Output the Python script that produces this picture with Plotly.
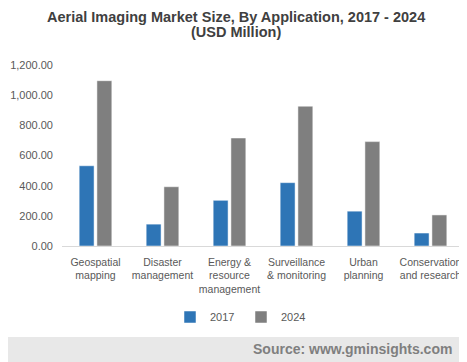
import plotly.graph_objects as go

categories = ["Geospatial<br>mapping", "Disaster<br>management", "Energy &<br>resource<br>management",
              "Surveillance<br>& monitoring", "Urban<br>planning", "Conservation<br>and research"]
values_2017 = [532, 145, 303, 420, 231, 86]
values_2024 = [1096, 393, 716, 927, 692, 206]
tick_vals = [0, 200, 400, 600, 800, 1000, 1200]
tick_text = ["0.00", "200.00", "400.00", "600.00", "800.00", "1,000.00", "1,200.00"]
title_lines = ["Aerial Imaging Market Size, By Application, 2017 - 2024", "(USD Million)"]
source_text = "Source: www.gminsights.com"

# page body has an 8px margin, so the figure is drawn 8px smaller and coordinates are shifted
OFF = 8
W, H = 467 - OFF, 362 - OFF
ml, mr, mt, mb = 54, 3, 57, 116
ph = H - mt - mb
pw = W - ml - mr

def py(pix):
    return (H - mb - (pix - OFF)) / ph

def px(pix):
    return ((pix - OFF) - ml) / pw

fig = go.Figure()
fig.add_trace(go.Bar(name="2017", x=categories, y=values_2017,
                     marker=dict(color="#2E75B6", line=dict(color="#FFFFFF", width=0.5))))
fig.add_trace(go.Bar(name="2024", x=categories, y=values_2024,
                     marker=dict(color="#7F7F7F", line=dict(color="#FFFFFF", width=0.5))))

font_tick = "Liberation Sans, Arial, sans-serif"
title_font = dict(family="Liberation Sans, Arial, sans-serif", size=14.5, color="#404040")
fig.update_layout(
    width=W, height=H, autosize=False,
    margin=dict(l=ml, r=mr, t=mt, b=mb, autoexpand=False),
    paper_bgcolor="white", plot_bgcolor="white",
    barmode="group", bargap=0.47, bargroupgap=0.16,
    xaxis=dict(showgrid=False, showline=True, linecolor="#D9D9D9", linewidth=1, ticks="",
               tickfont=dict(family=font_tick, size=10.5, color="#595959"), tickangle=0,
               ticklabelstandoff=6, automargin=False),
    yaxis=dict(range=[0, 1200], showgrid=False, showline=False, zeroline=False,
               tickvals=tick_vals, ticktext=tick_text, ticks="", automargin=False,
               ticklabelstandoff=8,
               tickfont=dict(family=font_tick, size=11, color="#595959")),
    legend=dict(orientation="h", xref="container", x=(241 - OFF) / W, xanchor="center",
                yref="container", y=1 - (317 - OFF) / H, yanchor="middle",
                font=dict(family=font_tick, size=11, color="#595959"),
                itemwidth=30, traceorder="normal", entrywidth=26, entrywidthmode="pixels"),
    showlegend=True,
    shapes=[dict(type="rect", xref="paper", yref="paper",
                 x0=-0.2, x1=1.2,
                 y0=py(380), y1=py(337), fillcolor="#E8E8E8", line=dict(width=0), layer="below")],
    annotations=[
        dict(text="<b>" + title_lines[0] + "</b>", xref="paper", yref="paper", x=px(236), xanchor="center",
             y=py(17.5), yanchor="middle", showarrow=False, font=title_font),
        dict(text="<b>" + title_lines[1] + "</b>", xref="paper", yref="paper", x=px(236), xanchor="center",
             y=py(32), yanchor="middle", showarrow=False, font=title_font),
        dict(text="<b>" + source_text + "</b>", xref="paper", yref="paper",
             x=px(454), xanchor="right", y=py(349), yanchor="middle",
             showarrow=False, font=dict(family="Liberation Sans, Arial, sans-serif", size=14, color="#7F7F7F")),
    ],
)

fig.write_html("out.html")
